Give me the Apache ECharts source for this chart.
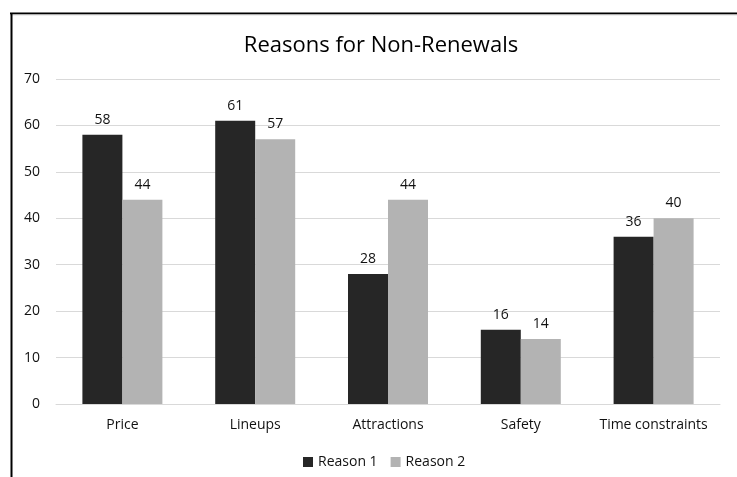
<!DOCTYPE html>
<html><head><meta charset="utf-8">
<script src="https://cdn.jsdelivr.net/npm/echarts@6/dist/echarts.min.js"></script>
<style>html,body{margin:0;padding:0;background:#fff}#c{width:737px;height:477px}</style>
</head><body><div id="c"></div>
<script>
const categories = ['Price', 'Lineups', 'Attractions', 'Safety', 'Time constraints'];
const reason1 = [58, 61, 28, 16, 36];
const reason2 = [44, 57, 44, 14, 40];
const yTicks = [0, 10, 20, 30, 40, 50, 60, 70];

const font = '"Open Sans", "Noto Sans", sans-serif';
const chart = echarts.init(document.getElementById('c'));
const lbl = {show: true, position: 'top', distance: 8, color: '#111', fontSize: 14, fontFamily: font};
chart.setOption({
  animation: false,
  title: {text: 'Reasons for Non-Renewals', left: 376, top: 30, textAlign: 'center',
    textStyle: {fontFamily: font, fontSize: 22, fontWeight: 'normal', color: '#000'}},
  graphic: [
    {type: 'line', shape: {x1: 10, y1: 13.5, x2: 737, y2: 13.5}, style: {stroke: '#000', lineWidth: 2}},
    {type: 'line', shape: {x1: 10, y1: 15, x2: 737, y2: 15}, style: {stroke: '#ddd', lineWidth: 1}},
    {type: 'line', shape: {x1: 11.5, y1: 13, x2: 11.5, y2: 477}, style: {stroke: '#000', lineWidth: 2}}
  ],
  legend: {data: ['Reason 1', 'Reason 2'], left: 298, top: 450, itemWidth: 10, itemHeight: 10, itemGap: 13,
    icon: 'rect', textStyle: {fontFamily: font, fontSize: 14, color: '#111'}},
  grid: {left: 56, right: 17, top: 79, bottom: 73, containLabel: false},
  xAxis: {type: 'category', data: categories,
    axisLine: {show: true, lineStyle: {color: '#d9d9d9'}}, axisTick: {show: false},
    axisLabel: {interval: 0, color: '#111', fontFamily: font, fontSize: 14, margin: 14}},
  yAxis: {type: 'value', min: yTicks[0], max: yTicks[yTicks.length - 1], interval: 10,
    axisLine: {show: false}, axisTick: {show: false},
    splitLine: {lineStyle: {color: '#d9d9d9'}},
    axisLabel: {color: '#111', fontFamily: font, fontSize: 14, margin: 16}},
  series: [
    {name: 'Reason 1', type: 'bar', data: reason1, barWidth: 40, barGap: '0%',
      itemStyle: {color: '#262626'}, label: lbl},
    {name: 'Reason 2', type: 'bar', data: reason2, barWidth: 40,
      itemStyle: {color: '#b3b3b3'}, label: lbl}
  ]
});
</script></body></html>
